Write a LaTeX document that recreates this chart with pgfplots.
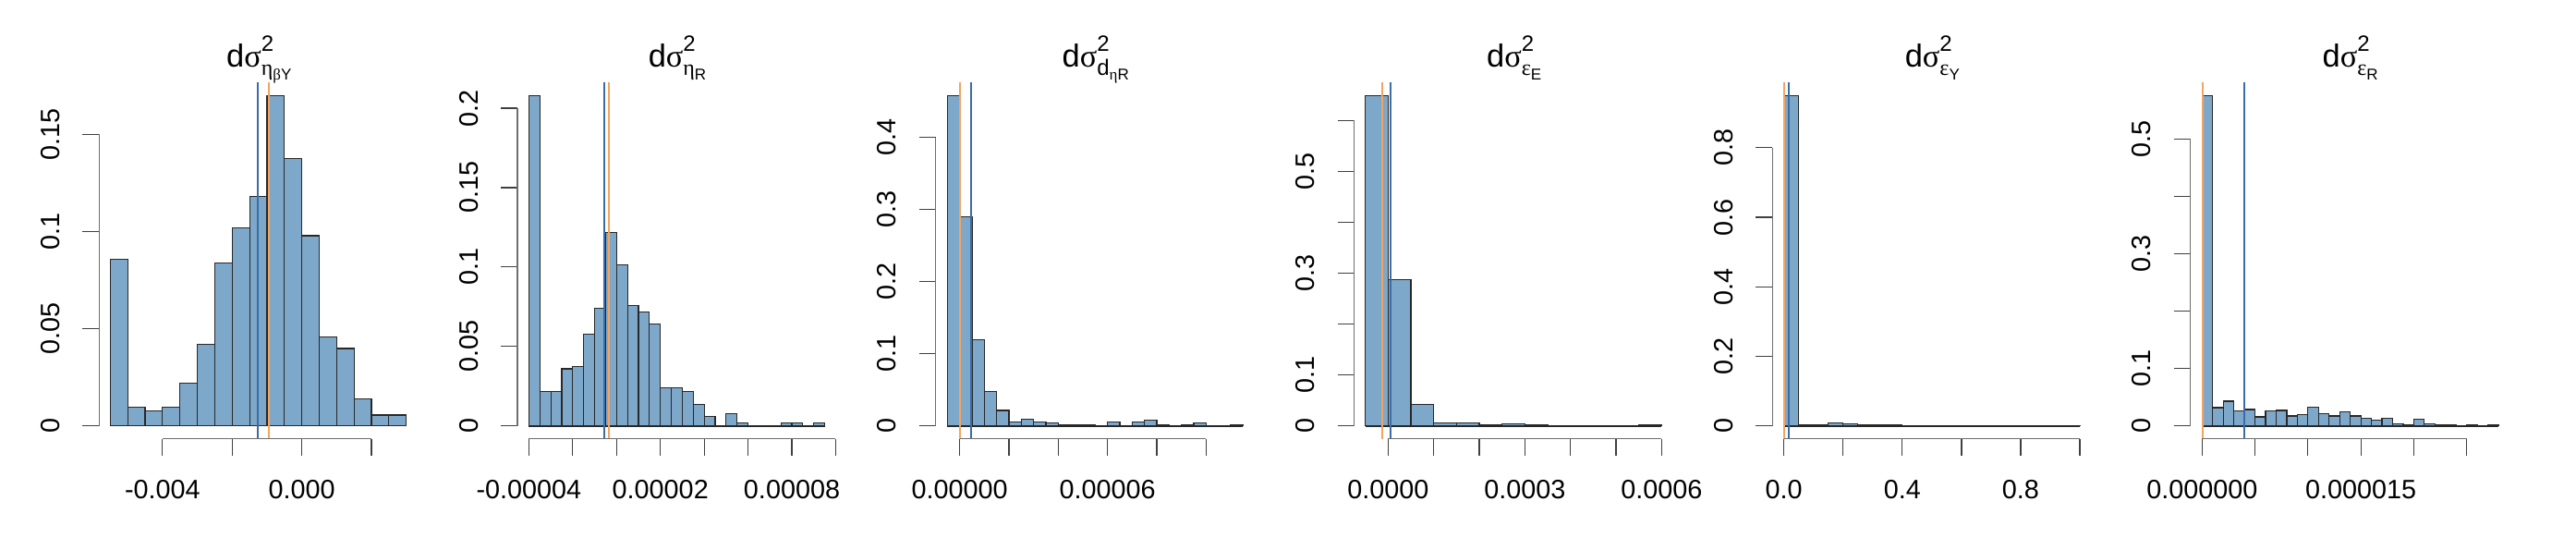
\documentclass[border=0pt]{standalone}
\usepackage{fontspec}
\setmainfont{Liberation Sans}
\newfontfamily\grk{Liberation Serif}
\usepackage{pgfplots}
\pgfplotsset{compat=1.18}

\definecolor{barfill}{RGB}{126,168,202}
\definecolor{bardraw}{RGB}{40,40,40}
\definecolor{lineblue}{RGB}{58,108,165}
\definecolor{lineorange}{RGB}{244,164,96}
\definecolor{axgray}{RGB}{110,110,110}

% title: d sigma^2 with a two-level subscript
\newcommand{\dsig}[2]{\fontsize{17.2}{20}\selectfont d{\grk σ}\makebox[0pt][l]{\raisebox{0.48em}{\fontsize{12}{14}\selectfont 2}}\raisebox{-0.25em}{\fontsize{12}{14}\selectfont {#1}\raisebox{-0.22em}{\fontsize{8.5}{10}\selectfont #2}}}

\tikzset{raxis/.style={axgray, line width=0.6pt}}
\pgfplotsset{
  rhist/.style={
    width=173pt, height=192.85pt, scale only axis, anchor=south west,
    axis lines=left, axis line style={draw=none,-},
    tick align=outside, major tick length=9pt,
    tick style={black!75, line width=0.6pt},
    minor tick num=0, clip=false,
    scaled x ticks=false, scaled y ticks=false,
    ticklabel style={font=\fontsize{14.4}{17}\selectfont, inner sep=0pt},
    xticklabel style={anchor=north},
    yticklabel style={rotate=90, anchor=south},
    xticklabel shift=13pt, yticklabel shift=12.15pt,
  },
  bars/.style={ybar interval, fill=barfill, draw=bardraw, line width=0.6pt},
  base/.style={bardraw, line width=0.8pt},
  vblue/.style={lineblue, line width=1pt},
  vorange/.style={lineorange, line width=1pt},
}

\begin{document}
\begin{tikzpicture}
\path[use as bounding box] (0,0) rectangle (1394pt,291pt);

% ---- panel 1
\begin{axis}[rhist, at={(53.65pt,53.55pt)},
  xmin=-0.00582, xmax=0.00336, ymin=-0.0068, ymax=0.1768,
  xtick={-0.004,-0.002,0,0.002}, xticklabels={-0.004,,0.000,},
  ytick={0,0.05,0.1,0.15}, yticklabels={0,0.05,0.1,0.15}]
\addplot[bars] coordinates {
  (-0.0055,0.0857) (-0.0050,0.0097) (-0.0045,0.0078) (-0.0040,0.0097)
  (-0.0035,0.0219) (-0.0030,0.0419) (-0.0025,0.0837) (-0.0020,0.1019)
  (-0.0015,0.1180) (-0.0010,0.1700) (-0.0005,0.1378) (0.0000,0.0979)
  (0.0005,0.0458) (0.0010,0.0398) (0.0015,0.0138) (0.0020,0.0055)
  (0.0025,0.0055) (0.0030,0)};
\addplot[vblue] coordinates {(-0.00127,-0.0068) (-0.00127,0.1768)};
\addplot[vorange] coordinates {(-0.00094,-0.0068) (-0.00094,0.1768)};
\draw[raxis] (axis cs:-0.004,-0.0068) -- (axis cs:0.002,-0.0068);
\draw[raxis] (axis cs:-0.00582,0) -- (axis cs:-0.00582,0.15);
\node[anchor=base] at (rel axis cs:0.5,1) [yshift=8.35pt] {\dsig{\grk η}{{\grk β}Y}};
\end{axis}

% ---- panel 2
\begin{axis}[rhist, at={(280pt,53.55pt)},
  xmin=-4.524e-5, xmax=1.0065e-4, ymin=-0.00824, ymax=0.2162,
  xtick={-4e-5,-2e-5,0,2e-5,4e-5,6e-5,8e-5,1e-4},
  xticklabels={-0.00004,,,0.00002,,,0.00008,},
  ytick={0,0.05,0.1,0.15,0.2}, yticklabels={0,0.05,0.1,0.15,0.2}]
\addplot[base] coordinates {(-4e-5,0) (9.5e-5,0)};
\addplot[bars] coordinates {
  (-4.0e-5,0.2080) (-3.5e-5,0.0218) (-3.0e-5,0.0218) (-2.5e-5,0.0359)
  (-2.0e-5,0.0376) (-1.5e-5,0.0579) (-1.0e-5,0.0739) (-0.5e-5,0.1217)
  (0,0.1016) (0.5e-5,0.0759) (1.0e-5,0.0718) (1.5e-5,0.0640)
  (2.0e-5,0.0238) (2.5e-5,0.0238) (3.0e-5,0.0218) (3.5e-5,0.0136)
  (4.0e-5,0.0058) (4.5e-5,0) (5.0e-5,0.0078) (5.5e-5,0.0017)
  (6.0e-5,0) (6.5e-5,0) (7.0e-5,0) (7.5e-5,0.0017)
  (8.0e-5,0.0017) (8.5e-5,0) (9.0e-5,0.0017) (9.5e-5,0)};
\addplot[vblue] coordinates {(-5.4e-6,-0.00824) (-5.4e-6,0.2162)};
\addplot[vorange] coordinates {(-3.3e-6,-0.00824) (-3.3e-6,0.2162)};
\draw[raxis] (axis cs:-4e-5,-0.00824) -- (axis cs:1e-4,-0.00824);
\draw[raxis] (axis cs:-4.524e-5,0) -- (axis cs:-4.524e-5,0.2);
\node[anchor=base] at (rel axis cs:0.5,1) [yshift=8.35pt] {\dsig{\grk η}{R}};
\end{axis}

% ---- panel 3
\begin{axis}[rhist, at={(506.35pt,53.55pt)},
  xmin=-9.75e-6, xmax=1.2e-4, ymin=-0.01814, ymax=0.4761,
  xtick={0,2e-5,4e-5,6e-5,8e-5,1e-4},
  xticklabels={0.00000,,,0.00006,,},
  ytick={0,0.1,0.2,0.3,0.4}, yticklabels={0,0.1,0.2,0.3,0.4}]
\addplot[base] coordinates {(-5e-6,0) (1.15e-4,0)};
\addplot[bars] coordinates {
  (-0.5e-5,0.4580) (0,0.2895) (0.5e-5,0.1195) (1.0e-5,0.0476)
  (1.5e-5,0.0214) (2.0e-5,0.0052) (2.5e-5,0.0095) (3.0e-5,0.0052)
  (3.5e-5,0.0038) (4.0e-5,0.0014) (4.5e-5,0.0014) (5.0e-5,0.0014)
  (5.5e-5,0) (6.0e-5,0.0052) (6.5e-5,0) (7.0e-5,0.0052)
  (7.5e-5,0.0076) (8.0e-5,0.0014) (8.5e-5,0) (9.0e-5,0.0014)
  (9.5e-5,0.0038) (1.0e-4,0) (1.05e-4,0) (1.1e-4,0.0014) (1.15e-4,0)};
\addplot[vorange] coordinates {(2.5e-7,-0.01814) (2.5e-7,0.4761)};
\addplot[vblue] coordinates {(4.75e-6,-0.01814) (4.75e-6,0.4761)};
\draw[raxis] (axis cs:0,-0.01814) -- (axis cs:1e-4,-0.01814);
\draw[raxis] (axis cs:-9.75e-6,0) -- (axis cs:-9.75e-6,0.4);
\node[anchor=base] at (rel axis cs:0.5,1) [yshift=8.35pt] {\dsig{d}{{\grk η}R}};
\end{axis}

% ---- panel 4
\begin{axis}[rhist, at={(732.85pt,53.55pt)},
  xmin=-7.42e-5, xmax=6.272e-4, ymin=-0.0257, ymax=0.6743,
  xtick={0,1e-4,2e-4,3e-4,4e-4,5e-4,6e-4},
  xticklabels={0.0000,,,0.0003,,,0.0006},
  ytick={0,0.1,0.2,0.3,0.4,0.5,0.6}, yticklabels={0,0.1,,0.3,,0.5,}]
\addplot[base] coordinates {(-5e-5,0) (6e-4,0)};
\addplot[bars] coordinates {
  (-5e-5,0.6487) (0,0.2873) (5e-5,0.0418) (1e-4,0.0054)
  (1.5e-4,0.0054) (2e-4,0.0013) (2.5e-4,0.0034) (3e-4,0.0013)
  (3.5e-4,0) (4e-4,0) (4.5e-4,0) (5e-4,0) (5.5e-4,0.0013) (6e-4,0)};
\addplot[vorange] coordinates {(-1.28e-5,-0.0257) (-1.28e-5,0.6743)};
\addplot[vblue] coordinates {(4.7e-6,-0.0257) (4.7e-6,0.6743)};
\draw[raxis] (axis cs:0,-0.0257) -- (axis cs:6e-4,-0.0257);
\draw[raxis] (axis cs:-7.42e-5,0) -- (axis cs:-7.42e-5,0.6);
\node[anchor=base] at (rel axis cs:0.5,1) [yshift=8.35pt] {\dsig{\grk ε}{E}};
\end{axis}

% ---- panel 5
\begin{axis}[rhist, at={(959.15pt,53.55pt)},
  xmin=-0.0387, xmax=1.0415, ymin=-0.0376, ymax=0.9876,
  xtick={0,0.2,0.4,0.6,0.8,1.0},
  xticklabels={0.0,,0.4,,0.8,},
  ytick={0,0.2,0.4,0.6,0.8}, yticklabels={0,0.2,0.4,0.6,0.8}]
\addplot[base] coordinates {(0,0) (1,0)};
\addplot[bars] coordinates {
  (0,0.950) (0.05,0.004) (0.10,0.004) (0.15,0.009) (0.20,0.007)
  (0.25,0.004) (0.30,0.002) (0.35,0.002) (0.40,0.001) (0.45,0)
  (0.50,0) (0.55,0) (0.60,0.001) (0.65,0) (0.70,0) (0.75,0)
  (0.80,0) (0.85,0) (0.90,0) (0.95,0.001) (1.00,0)};
\addplot[vorange] coordinates {(0,-0.0376) (0,0.9876)};
\addplot[vblue] coordinates {(0.0177,-0.0376) (0.0177,0.9876)};
\draw[raxis] (axis cs:0,-0.0376) -- (axis cs:1,-0.0376);
\draw[raxis] (axis cs:-0.0387,0) -- (axis cs:-0.0387,0.8);
\node[anchor=base] at (rel axis cs:0.5,1) [yshift=8.35pt] {\dsig{\grk ε}{Y}};
\end{axis}

% ---- panel 6
\begin{axis}[rhist, at={(1185.35pt,53.55pt)},
  xmin=-1.1e-6, xmax=2.911e-5, ymin=-0.0228, ymax=0.5987,
  xtick={0,5e-6,1e-5,1.5e-5,2e-5,2.5e-5},
  xticklabels={0.000000,,,0.000015,,},
  ytick={0,0.1,0.2,0.3,0.4,0.5}, yticklabels={0,0.1,,0.3,,0.5}]
\addplot[base] coordinates {(0,0) (2.8e-5,0)};
\addplot[bars] coordinates {
  (0,0.5760) (1e-6,0.0317) (2e-6,0.0431) (3e-6,0.0257) (4e-6,0.0287)
  (5e-6,0.0156) (6e-6,0.0257) (7e-6,0.0269) (8e-6,0.0174) (9e-6,0.0192)
  (1.0e-5,0.0329) (1.1e-5,0.0216) (1.2e-5,0.0174) (1.3e-5,0.0240)
  (1.4e-5,0.0174) (1.5e-5,0.0132) (1.6e-5,0.0096) (1.7e-5,0.0132)
  (1.8e-5,0.0036) (1.9e-5,0.0012) (2.0e-5,0.0114) (2.1e-5,0.0030)
  (2.2e-5,0.0012) (2.3e-5,0.0012) (2.4e-5,0) (2.5e-5,0.0012)
  (2.6e-5,0) (2.7e-5,0.0012) (2.8e-5,0)};
\addplot[vorange] coordinates {(3e-8,-0.0228) (3e-8,0.5987)};
\addplot[vblue] coordinates {(3.96e-6,-0.0228) (3.96e-6,0.5987)};
\draw[raxis] (axis cs:0,-0.0228) -- (axis cs:2.5e-5,-0.0228);
\draw[raxis] (axis cs:-1.1e-6,0) -- (axis cs:-1.1e-6,0.5);
\node[anchor=base] at (rel axis cs:0.5,1) [yshift=8.35pt] {\dsig{\grk ε}{R}};
\end{axis}
\end{tikzpicture}
\end{document}
